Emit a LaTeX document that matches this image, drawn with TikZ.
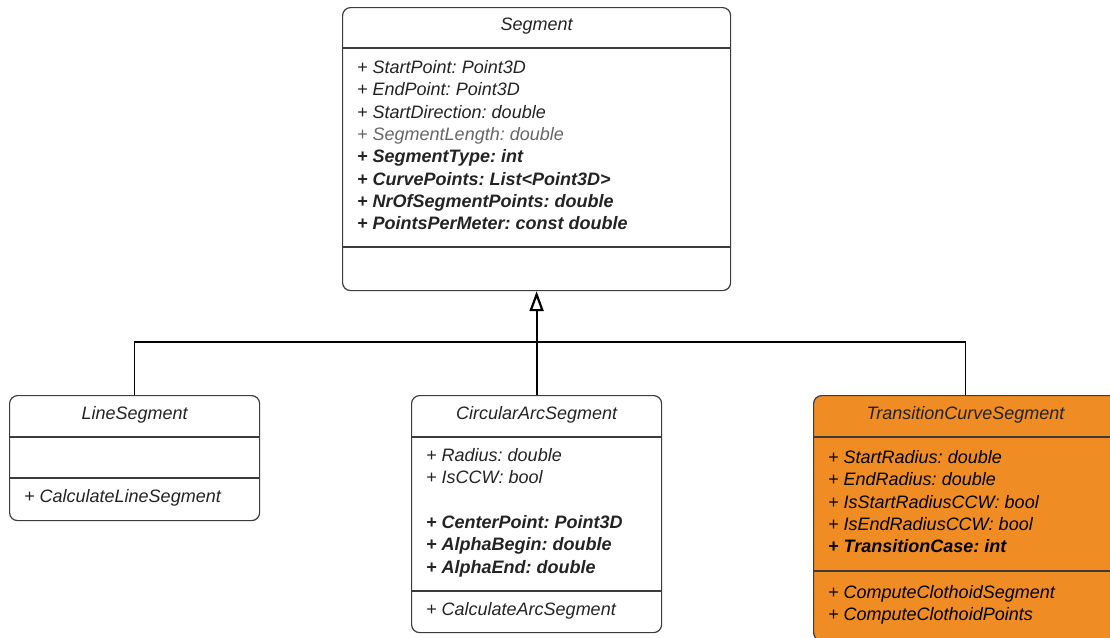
\documentclass[tikz,border=0pt]{standalone}
\usepackage{fontspec}
\setmainfont{Liberation Sans}
\usetikzlibrary{positioning,arrows.meta,calc}
\definecolor{boxline}{RGB}{60,60,60}
\definecolor{clothoid}{RGB}{239,140,36}
\definecolor{softtext}{RGB}{35,35,35}
\frenchspacing

\begin{document}
\begin{tikzpicture}[
  x=1pt, y=-1pt,
  umlbox/.style={rectangle,draw=boxline,line width=1.2pt,rounded corners=8pt,anchor=north west,inner sep=0pt},
  special/.style={fill=clothoid},
  title/.style={font=\fontsize{18}{22.3}\selectfont\itshape,text=softtext,inner sep=0pt},
  members/.style={font=\fontsize{18}{22.3}\selectfont\itshape,text=softtext,align=left,anchor=north west,inner sep=0pt},
  divider/.style={draw=boxline,line width=1.2pt},
  link/.style={line width=1.5pt},
  inherit/.style={line width=2.2pt,-{Triangle[open,length=20pt,width=14pt]}}
]
\useasboundingbox (0,0) rectangle (1110,637);

\node[umlbox,minimum width=388pt,minimum height=283pt] (segment) at (342,7) {};
\node[umlbox,minimum width=250pt,minimum height=125pt] (lineseg) at (9,395) {};
\node[umlbox,minimum width=250pt,minimum height=237pt] (arcseg) at (411,395) {};
\node[umlbox,special,minimum width=304pt,minimum height=245pt] (transseg) at (813,395) {};

% class names
\node[title] (segmentname) at ([yshift=-19.5pt]segment.north) {Segment};
\node[title] (linesegname) at ([yshift=-19.5pt]lineseg.north) {LineSegment};
\node[title] (arcsegname) at ([yshift=-19.5pt]arcseg.north) {CircularArcSegment};
\node[title] (transsegname) at ([yshift=-19.5pt]transseg.north) {TransitionCurveSegment};

% compartments
\draw[divider] ([yshift=-41pt]segment.north west) -- ([yshift=-41pt]segment.north east);
\draw[divider] ([yshift=-240pt]segment.north west) -- ([yshift=-240pt]segment.north east);
\draw[divider] ([yshift=-42pt]lineseg.north west) -- ([yshift=-42pt]lineseg.north east);
\draw[divider] ([yshift=-83pt]lineseg.north west) -- ([yshift=-83pt]lineseg.north east);
\draw[divider] ([yshift=-42pt]arcseg.north west) -- ([yshift=-42pt]arcseg.north east);
\draw[divider] ([yshift=-196pt]arcseg.north west) -- ([yshift=-196pt]arcseg.north east);
\draw[divider] ([yshift=-42pt]transseg.north west) -- ([yshift=-42pt]transseg.north east);
\draw[divider] ([yshift=-176pt]transseg.north west) -- ([yshift=-176pt]transseg.north east);

% attributes and methods
\node[members] (segmentattrs) at ([xshift=15pt,yshift=-50.8pt]segment.north west) {\strut + StartPoint: Point3D\\
+ EndPoint: Point3D\\
+ StartDirection: double\\
{\color{black!60}+ SegmentLength: double}\\
\textbf{+ SegmentType: int}\\
\textbf{+ CurvePoints: List<Point3D>}\\
\textbf{+ NrOfSegmentPoints: double}\\
\textbf{+ PointsPerMeter: const double}};
\node[members] (linesegops) at ([xshift=15pt,yshift=-91.8pt]lineseg.north west) {\strut + CalculateLineSegment};
\node[members] (arcsegattrs) at ([xshift=15pt,yshift=-50.8pt]arcseg.north west) {\strut + Radius: double\\
+ IsCCW: bool\\[22.3pt]
\textbf{+ CenterPoint: Point3D}\\
\textbf{+ AlphaBegin: double}\\
\textbf{+ AlphaEnd: double}};
\node[members] (arcsegops) at ([xshift=15pt,yshift=-204.8pt]arcseg.north west) {\strut + CalculateArcSegment};
\node[members,text=black] (transsegattrs) at ([xshift=15pt,yshift=-52.8pt]transseg.north west) {\strut + StartRadius: double\\
+ EndRadius: double\\
+ IsStartRadiusCCW: bool\\
+ IsEndRadiusCCW: bool\\
\textbf{+ TransitionCase: int}};
\node[members,text=black] (transsegops) at ([xshift=15pt,yshift=-187.8pt]transseg.north west) {\strut + ComputeClothoidSegment\\
+ ComputeClothoidPoints};

% generalisation
\draw[link] (lineseg.north) -- ++(0,-53) -| (transseg.north);
\draw[inherit] (arcseg.north) -- (segment.south);

\end{tikzpicture}
\end{document}
